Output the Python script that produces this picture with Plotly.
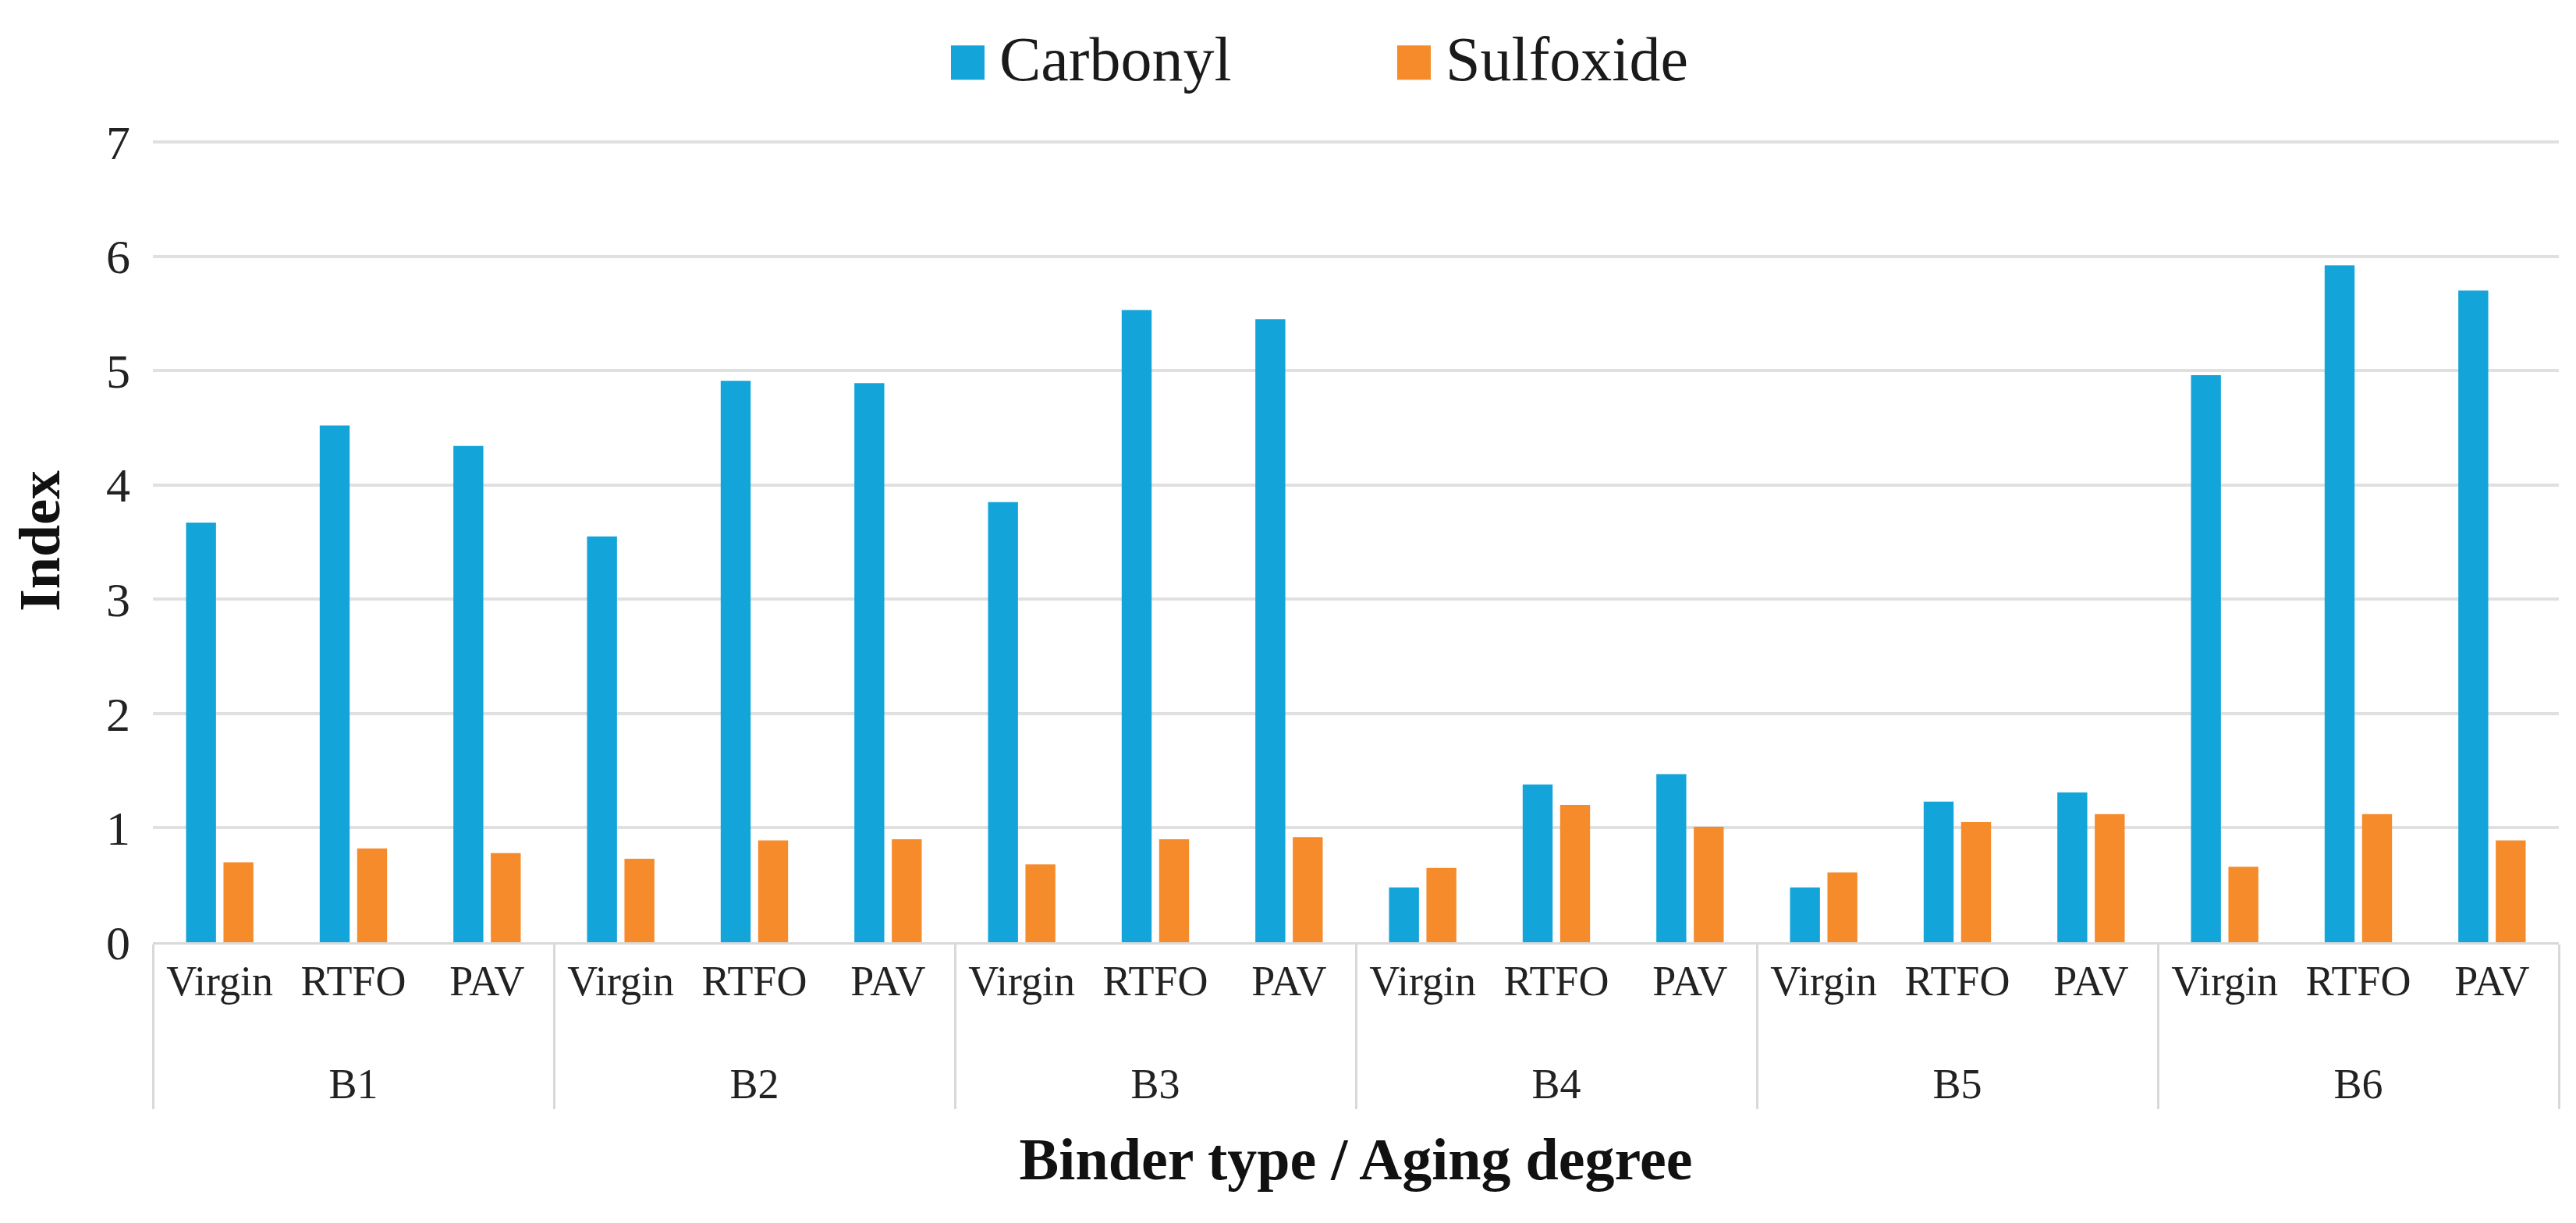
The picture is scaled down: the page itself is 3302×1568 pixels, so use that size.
import plotly.graph_objects as go

binders = ["B1", "B2", "B3", "B4", "B5", "B6"]
aging = ["Virgin", "RTFO", "PAV"]
series_names = ["Carbonyl", "Sulfoxide"]
carbonyl = [3.67, 4.52, 4.34, 3.55, 4.91, 4.89, 3.85, 5.53, 5.45,
            0.48, 1.38, 1.47, 0.48, 1.23, 1.31, 4.96, 5.92, 5.70]
sulfoxide = [0.70, 0.82, 0.78, 0.73, 0.89, 0.90, 0.68, 0.90, 0.92,
             0.65, 1.20, 1.01, 0.61, 1.05, 1.12, 0.66, 1.12, 0.89]
y_ticks = [0, 1, 2, 3, 4, 5, 6, 7]
colors = ["#13A5DA", "#F68B2C"]

# outer group labels get an empty first line so they sit lower, as in the original
outer = ["<br>" + b for b in binders for _ in aging]
inner = [a for _ in binders for a in aging]

FONT = "Liberation Serif"
W, H = 3302, 1568
Y_MAX = 7.02
ZERO_PX = 1200          # pixel row of y = 0
UNIT_PX = 146.6         # pixels per unit on the y axis
ML, MR = 188, 30
MB = H - ZERO_PX
PH = UNIT_PX * Y_MAX
MT = H - MB - PH
PW = W - ML - MR

fig = go.Figure()
for name, vals, col in zip(series_names, [carbonyl, sulfoxide], colors):
    fig.add_trace(go.Bar(x=[outer, inner], y=vals, name=name,
                         marker=dict(color=col, line=dict(width=0)),
                         showlegend=False))

# custom legend (large swatches like the original)
def px2paper_x(px):
    return (px - ML) / PW

def px2paper_y(py):
    return (H - MB - py) / PH

legend_items = [(series_names[0], colors[0], 1211), (series_names[1], colors[1], 1783)]
for name, col, x0 in legend_items:
    fig.add_shape(type="rect", xref="paper", yref="paper",
                  x0=px2paper_x(x0), x1=px2paper_x(x0 + 43),
                  y0=px2paper_y(94), y1=px2paper_y(50),
                  fillcolor=col, line=dict(width=0))
    fig.add_annotation(xref="paper", yref="paper", x=px2paper_x(x0 + 60),
                       y=px2paper_y(68), text=name, showarrow=False,
                       xanchor="left", yanchor="middle",
                       font=dict(family=FONT, size=80, color="#1a1a1a"))

fig.update_layout(
    width=W, height=H,
    margin=dict(l=ML, r=MR, t=MT, b=MB),
    paper_bgcolor="white", plot_bgcolor="white",
    barmode="group", bargap=0.44, bargroupgap=0.2,
    font=dict(family=FONT, color="#222222"),
)
fig.update_xaxes(
    type="multicategory",
    showline=True, linecolor="#d9d9d9", linewidth=3,
    ticks="", showgrid=False,
    tickfont=dict(family=FONT, size=54, color="#222222"),
    showdividers=True, dividercolor="#d9d9d9", dividerwidth=3,
    title=dict(text="<b>Binder type / Aging degree</b>",
               font=dict(family=FONT, size=76, color="#111111"), standoff=40),
)
fig.update_yaxes(
    range=[0, Y_MAX], tickvals=y_ticks, ticktext=[str(v) for v in y_ticks],
    showgrid=True, gridcolor="#e0e0e0", gridwidth=4,
    zeroline=False, showline=False, ticks="",
    tickfont=dict(family=FONT, size=62, color="#222222"),
    ticklabelstandoff=28,
    title=dict(text="<b>Index</b>", font=dict(family=FONT, size=74, color="#111111"),
               standoff=35),
)

fig.write_html("out.html")
